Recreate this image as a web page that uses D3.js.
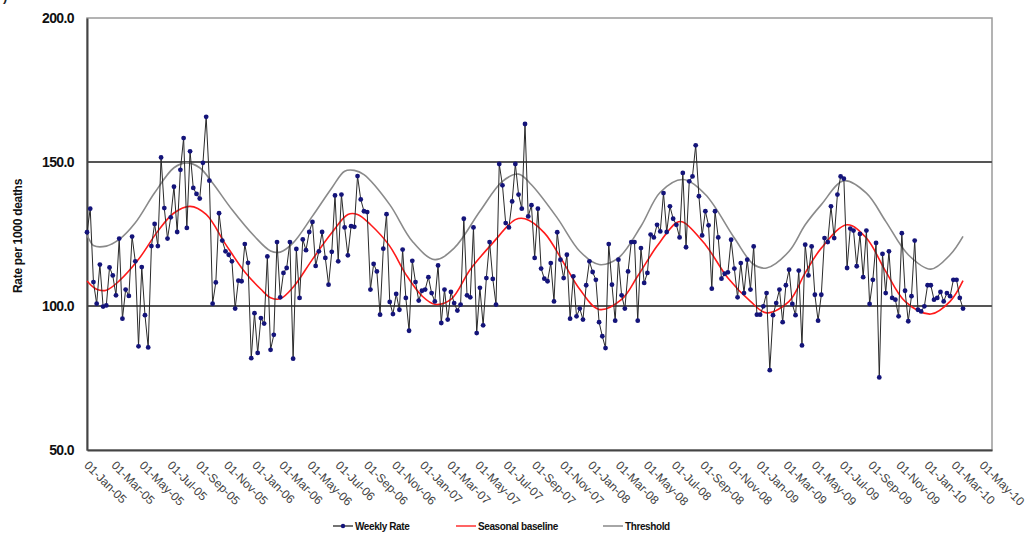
<!DOCTYPE html>
<html>
<head>
<meta charset="utf-8">
<script src="https://cdn.jsdelivr.net/npm/d3@7"></script>
<style>
  body { margin: 0; background: #fff; }
  svg { display: block; }
  text { font-family: "Liberation Sans", Arial, sans-serif; }
</style>
</head>
<body>
<svg id="chart" width="1027" height="536"></svg>
<script>
// Weekly all-cause rate, first week starting 1 Jan 2005
const startDate = "2005-01-01";
const weeklyRate = [
  125.6, 133.8, 108.3, 100.8, 114.4, 99.8, 100.2, 113.4, 110.6, 103.7,
  123.4, 95.6, 105.7, 103.5, 124.1, 115.5, 86.0, 113.5, 96.8, 85.6,
  120.8, 128.5, 120.8, 151.6, 134.0, 123.4, 130.8, 141.4, 125.7, 147.3,
  158.3, 127.1, 153.7, 141.0, 138.9, 137.3, 149.7, 165.7, 143.5, 100.8,
  108.2, 132.2, 122.7, 119.0, 117.8, 115.5, 99.1, 108.8, 108.6, 121.5,
  115.0, 81.9, 97.5, 83.7, 95.8, 93.9, 117.2, 84.8, 90.0, 122.2,
  103.0, 111.5, 113.2, 122.2, 81.7, 119.8, 102.8, 123.1, 119.4, 125.7,
  129.2, 113.9, 119.0, 125.7, 116.7, 107.4, 118.8, 138.4, 115.5, 138.7,
  127.3, 117.6, 127.7, 127.5, 145.1, 137.0, 132.9, 132.6, 105.7, 114.6,
  112.0, 97.0, 119.9, 131.9, 101.4, 97.2, 104.2, 98.7, 119.6, 102.8,
  91.4, 115.7, 108.3, 101.9, 105.3, 105.7, 110.0, 104.5, 101.6, 114.1,
  94.1, 105.7, 95.3, 104.9, 101.0, 98.4, 100.5, 130.3, 103.7, 103.0,
  127.3, 90.6, 106.3, 93.3, 109.7, 122.2, 109.4, 100.5, 149.3, 141.9,
  128.8, 127.3, 136.3, 149.3, 138.7, 133.8, 163.2, 131.1, 135.0, 116.7,
  133.8, 113.0, 109.5, 108.6, 114.9, 101.6, 125.6, 116.1, 109.7, 117.8,
  95.6, 110.3, 96.4, 99.1, 95.3, 107.2, 115.5, 111.8, 109.1, 94.4,
  89.5, 85.4, 121.5, 107.4, 94.9, 116.1, 103.7, 99.1, 112.0, 122.2,
  122.2, 94.9, 120.1, 108.0, 111.5, 124.8, 123.8, 128.2, 125.9, 139.2,
  125.7, 134.6, 130.3, 128.2, 123.8, 146.2, 120.4, 143.3, 145.0, 155.8,
  138.1, 124.5, 132.9, 128.0, 106.0, 132.9, 123.8, 109.5, 111.2, 111.7,
  123.0, 113.0, 103.0, 114.9, 104.5, 116.1, 105.7, 120.7, 97.0, 97.0,
  99.9, 104.5, 77.7, 96.8, 101.0, 105.7, 94.4, 107.2, 112.6, 100.7,
  96.8, 112.3, 86.3, 121.3, 110.6, 120.7, 103.9, 94.9, 103.9, 123.6,
  122.2, 134.6, 123.6, 138.7, 145.0, 144.2, 113.2, 126.9, 126.2, 113.8,
  125.0, 110.0, 126.2, 100.7, 109.1, 121.9, 75.2, 118.1, 104.5, 119.0,
  102.8, 102.2, 96.4, 125.3, 105.3, 94.7, 103.4, 122.7, 98.7, 98.1,
  99.9, 107.2, 107.2, 102.2, 102.8, 104.9, 101.6, 104.5, 103.4, 109.1,
  109.1, 102.8, 99.1
];

// Seasonal baseline, sampled at week numbers of the series
const baselineWeeks = [0, 3, 6, 10, 16, 22, 27, 32, 37, 43, 49, 54, 57, 60, 64, 70, 76, 81, 84,
  88, 94, 99, 104, 108, 113, 119, 126, 133, 136, 142, 148, 153, 159, 166, 171, 177, 183, 185,
  192, 199, 206, 211, 218, 223, 228, 236, 242, 248, 254, 262, 268, 272];
const baselineValues = [108.7, 105.8, 105.5, 108.7, 116.2, 126.0, 132.3, 134.6, 131.8, 121.5, 111.8,
  105.8, 102.9, 102.5, 106.5, 116.2, 125.4, 131.8, 131.8, 128.3, 120.8, 111.0, 103.5, 100.6,
  102.3, 112.7, 121.9, 130.0, 130.3, 125.4, 115.0, 105.8, 98.8, 102.3, 110.4, 120.8, 128.9,
  129.2, 121.3, 109.7, 101.6, 97.6, 101.6, 111.5, 120.1, 128.2, 123.6, 112.0, 101.6, 97.2,
  101.6, 108.8];

// Alert threshold, sampled at week numbers of the series
const thresholdWeeks = [0, 1, 2, 6, 10, 15, 21, 27, 31, 35, 39, 45, 52, 57, 60, 64, 70, 76, 80,
  83, 86, 94, 101, 108, 114, 122, 129, 134, 138, 146, 153, 159, 165, 172, 178, 185, 192, 201,
  207, 211, 218, 223, 228, 235, 242, 248, 255, 262, 268, 272];
const thresholdValues = [124.5, 122.5, 121.0, 120.8, 123.1, 128.9, 139.3, 148.0, 149.7, 148.0,
  142.7, 133.5, 124.2, 119.1, 118.7, 121.9, 131.2, 141.0, 146.8, 147.1, 145.6, 135.2, 122.5,
  116.1, 120.1, 132.9, 143.3, 145.8, 142.1, 130.6, 119.0, 114.4, 116.7, 127.7, 139.5, 143.9,
  138.7, 123.6, 114.4, 113.2, 119.0, 128.2, 135.2, 143.5, 139.2, 129.4, 117.8, 112.8, 117.8,
  124.2];

const yTicks = [50, 100, 150, 200];
const gridValues = [100, 150];
const yTitle = "Rate per 1000 deaths";
const legendLabels = ["Weekly Rate", "Seasonal baseline", "Threshold"];

const svg = d3.select("#chart");
const plot = { left: 87, right: 992, top: 18, bottom: 450 };

const parseDay = d3.utcParse("%Y-%m-%d");
const t0 = parseDay(startDate);
const weekDate = w => d3.utcDay.offset(t0, w * 7);

const x = d3.scaleUtc()
  .domain([t0, parseDay("2010-05-22")])
  .range([plot.left, plot.right]);
const y = d3.scaleLinear().domain([50, 200]).range([plot.bottom, plot.top]);

// panel marker, clipped by the top edge
svg.append("text").attr("x", 3).attr("y", 1)
  .attr("font-size", 13).attr("font-weight", "bold").attr("fill", "#222")
  .text(")");

// plot frame
svg.append("rect")
  .attr("x", plot.left).attr("y", plot.top)
  .attr("width", plot.right - plot.left).attr("height", plot.bottom - plot.top)
  .attr("fill", "#fff").attr("stroke", "#9a9a9a").attr("stroke-width", 1.5);

// horizontal reference lines
svg.append("g").selectAll("line").data(gridValues).join("line")
  .attr("x1", plot.left).attr("x2", plot.right)
  .attr("y1", d => y(d)).attr("y2", d => y(d))
  .attr("stroke", "#555").attr("stroke-width", 2);

// axes
const yAxis = d3.axisLeft(y).tickValues(yTicks).tickFormat(d3.format(".1f")).tickSize(0).tickPadding(13);
const gy = svg.append("g").attr("transform", `translate(${plot.left},0)`).call(yAxis);
gy.select(".domain").attr("stroke", "#444").attr("stroke-width", 2);
gy.selectAll("text").attr("font-size", 14).attr("font-weight", "bold").attr("fill", "#111")
  .attr("letter-spacing", -0.6);

const xAxis = d3.axisBottom(x)
  .ticks(d3.utcMonth.every(2))
  .tickFormat(d3.utcFormat("%d-%b-%y"))
  .tickSize(0);
const gx = svg.append("g").attr("transform", `translate(0,${plot.bottom})`).call(xAxis);
gx.select(".domain").attr("stroke", "#444").attr("stroke-width", 2);
gx.selectAll("text")
  .attr("font-size", 12).attr("fill", "#444")
  .attr("text-anchor", "start")
  .attr("y", 0).attr("dy", 0)
  .attr("transform", "translate(-4,16) rotate(45)");

// y axis title
svg.append("text")
  .attr("transform", "translate(22,236) rotate(-90)")
  .attr("text-anchor", "middle")
  .attr("font-size", 12).attr("font-weight", "bold").attr("fill", "#111")
  .attr("letter-spacing", -0.3)
  .text(yTitle);

// series
const rateLine = d3.line().x((d, i) => x(weekDate(i))).y(d => y(d));
const smoothLine = d3.line().x(d => x(weekDate(d[0]))).y(d => y(d[1])).curve(d3.curveCatmullRom.alpha(0.5));

svg.append("path").datum(d3.zip(thresholdWeeks, thresholdValues))
  .attr("d", smoothLine).attr("fill", "none").attr("stroke", "#8a8a8a").attr("stroke-width", 1.6);
svg.append("path").datum(d3.zip(baselineWeeks, baselineValues))
  .attr("d", smoothLine).attr("fill", "none").attr("stroke", "#ff1a1a").attr("stroke-width", 1.6);

svg.append("path").datum(weeklyRate)
  .attr("d", rateLine).attr("fill", "none").attr("stroke", "#2a2a2a").attr("stroke-width", 1);
svg.append("g").selectAll("circle").data(weeklyRate).join("circle")
  .attr("cx", (d, i) => x(weekDate(i))).attr("cy", d => y(d))
  .attr("r", 2.4).attr("fill", "#14147a");

// legend
const legend = svg.append("g").attr("transform", "translate(0,526)");
const legendItems = [
  { label: legendLabels[0], color: "#444", x: 333, marker: true },
  { label: legendLabels[1], color: "#ff3030", x: 456, marker: false },
  { label: legendLabels[2], color: "#888", x: 603, marker: false }
];
legendItems.forEach(it => {
  legend.append("line").attr("x1", it.x).attr("x2", it.x + 20).attr("y1", 0).attr("y2", 0)
    .attr("stroke", it.color).attr("stroke-width", 1.5);
  if (it.marker) legend.append("circle").attr("cx", it.x + 10).attr("cy", 0).attr("r", 2.2).attr("fill", "#14147a");
  legend.append("text").attr("x", it.x + 22).attr("y", 4)
    .attr("font-size", 10).attr("font-weight", "bold").attr("fill", "#111")
    .attr("letter-spacing", -0.4)
    .text(it.label);
});
</script>
</body>
</html>
